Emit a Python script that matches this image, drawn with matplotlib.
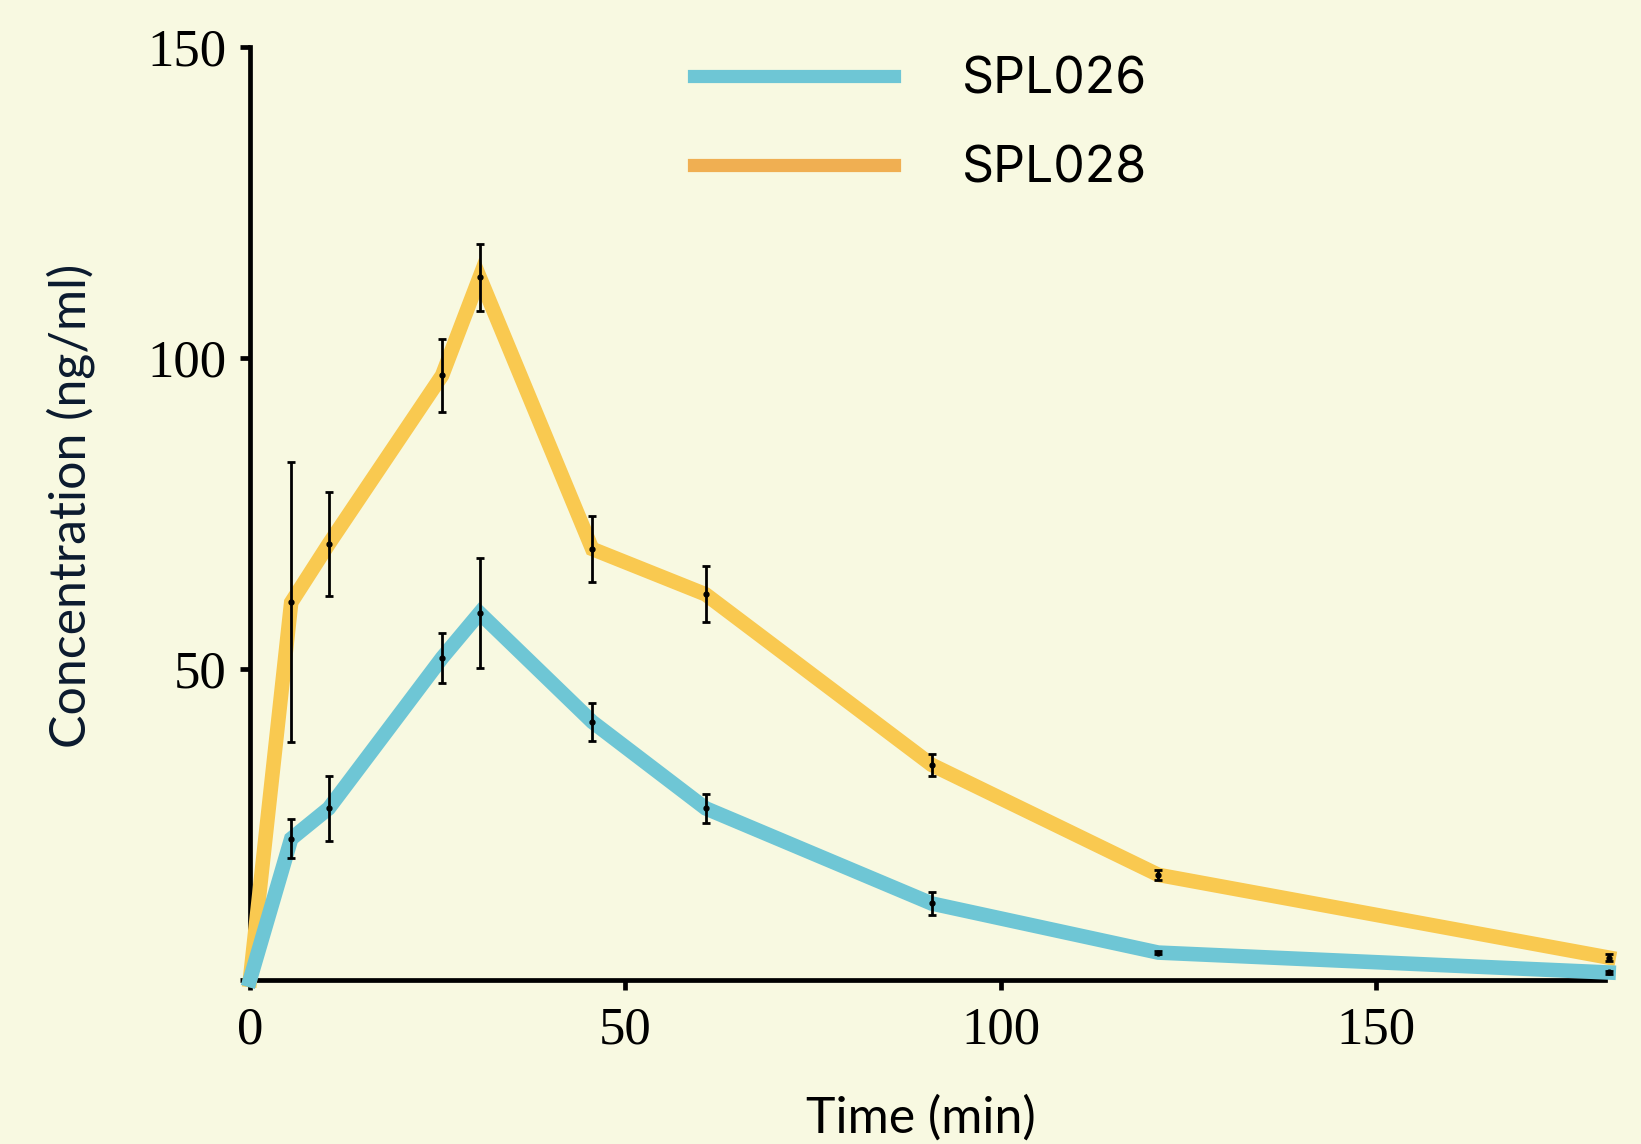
import matplotlib.pyplot as plt
from matplotlib.lines import Line2D

# Données (temps en min, concentrations en ng/ml)
temps = [0, 5.5, 10.5, 25.6, 30.6, 45.6, 60.7, 90.8, 121, 181]

spl026 = [0, 22.7, 27.6, 51.8, 59.0, 41.5, 27.6, 12.3, 4.4, 1.2]
spl026_sd = [0, 3.1, 5.2, 4.0, 8.8, 3.1, 2.3, 1.9, 0.3, 0.2]

spl028 = [0, 60.7, 70.1, 97.2, 113.0, 69.3, 62.0, 34.6, 16.9, 3.6]
spl028_sd = [0, 22.5, 8.4, 5.9, 5.4, 5.3, 4.5, 1.8, 0.8, 0.5]

noms = ["SPL026", "SPL028"]
ticks_x = [0, 50, 100, 150]
ticks_y = [0, 50, 100, 150]

# Couleurs
fond = "#F8F9E1"
bleu = "#6EC6D5"
jaune = "#F9C950"
orange_legende = "#F0AF52"

fig = plt.figure(figsize=(16.41, 11.44), dpi=100, facecolor=fond)
ax = fig.add_axes([0.1523, 0.1434, 0.8257, 0.8155])
ax.set_facecolor(fond)

# Courbes
ax.plot(temps, spl028, color=jaune, linewidth=10.5, zorder=3, clip_on=False,
        solid_joinstyle="miter")
ax.plot(temps, spl026, color=bleu, linewidth=10.5, zorder=3.1, clip_on=False,
        solid_joinstyle="miter")

# Barres d'erreur (pas de barre au point t=0)
for y, sd in [(spl028, spl028_sd), (spl026, spl026_sd)]:
    ax.errorbar(temps[1:], y[1:], yerr=sd[1:], fmt="o", color="black",
                markersize=3.5, elinewidth=2, capsize=3, capthick=2,
                zorder=4, clip_on=False)

ax.set_xlim(0, 180.5)
ax.set_ylim(0, 150)
ax.set_xticks(ticks_x)
ax.set_yticks(ticks_y)

for cote in ["top", "right"]:
    ax.spines[cote].set_visible(False)
for cote in ["left", "bottom"]:
    ax.spines[cote].set_linewidth(3.4)
    ax.spines[cote].set_color("black")

ax.tick_params(axis="both", direction="out", length=7, width=3.4, colors="black")
ax.tick_params(axis="y", pad=10)
ax.tick_params(axis="x", pad=12)
for lab in ax.get_xticklabels() + ax.get_yticklabels():
    lab.set_fontfamily("Liberation Serif")
    lab.set_fontsize(38)
ax.get_yticklabels()[0].set_visible(False)

# Titres des axes
ax.set_xlabel("Time (min)", fontsize=36, family="Lato", color="black")
ax.xaxis.set_label_coords(0.495, -0.123)
ax.set_ylabel("Concentration (ng/ml)", fontsize=36, family="Lato", color="#0B1A2E")
ax.yaxis.set_label_coords(-0.114, 0.508)

# Légende
poignees = [Line2D([], [], color=bleu, linewidth=9.5),
            Line2D([], [], color=orange_legende, linewidth=9.5)]
ax.legend(poignees, noms, loc="upper left", bbox_to_anchor=(694 / 1641, 1 - 56 / 1144),
          bbox_transform=fig.transFigure, frameon=False, borderpad=0, borderaxespad=0,
          handlelength=4.0, handletextpad=1.35, labelspacing=0.85,
          prop={"family": "Inter", "size": 36})

fig.savefig("out.png", dpi=100, facecolor=fond)
